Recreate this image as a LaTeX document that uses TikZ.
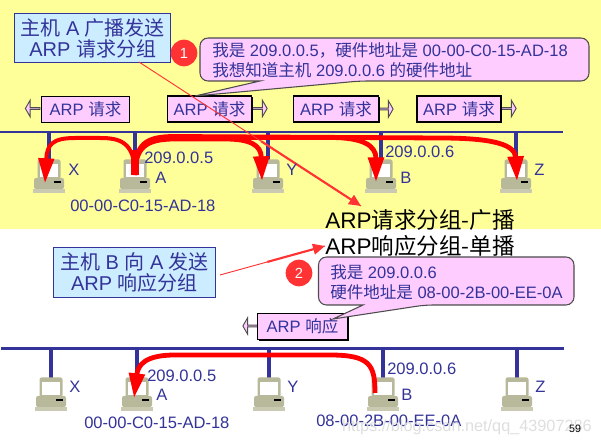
\documentclass[tikz,border=0pt]{standalone}
\usepackage{fontspec}
\setmainfont{Liberation Sans}
\newfontfamily\cjk{Noto Sans CJK SC}
\newcommand{\zh}[1]{{\cjk #1}}
\usepackage{xcolor}
\usepackage{tikz}
\usetikzlibrary{shapes.arrows, arrows.meta, shadows, calc}
\definecolor{navytext}{RGB}{51,51,153}
\definecolor{redline}{RGB}{255,51,51}
\definecolor{pinkfill}{RGB}{255,204,255}
\definecolor{bluefill}{RGB}{204,236,255}
\definecolor{slideyellow}{RGB}{255,255,153}
\definecolor{casegray}{RGB}{184,184,154}

\begin{document}
\begin{tikzpicture}[
    x=0.75pt, y=-0.75pt,
    label_text/.style={text=navytext, font=\fontsize{12.4pt}{14pt}\selectfont, inner sep=0pt},
    note_box/.style={rectangle, draw=navytext, fill=bluefill, line width=0.8pt, align=center, text=navytext,
        font=\fontsize{15pt}{16pt}\selectfont, inner sep=0pt},
    packet_box/.style={rectangle, draw=black, fill=pinkfill, line width=0.8pt, text=navytext,
        font=\fontsize{12.4pt}{14pt}\selectfont, inner sep=0pt, minimum height=19.5pt},
    packet_shadow/.style={packet_box, drop shadow={shadow xshift=1.1pt, shadow yshift=-1.1pt, fill=black, opacity=1}},
    packet_arrow/.style={single arrow, draw=black!70, fill=pinkfill, line width=0.7pt, inner sep=0pt,
        minimum width=12.5pt, minimum height=11pt, single arrow head extend=3.2pt, single arrow tip angle=120},
    callout_line/.style={draw=black!70, fill=pinkfill, line width=0.8pt},
    callout_text/.style={text=navytext, align=left, font=\fontsize{12.4pt}{15pt}\selectfont, inner sep=0pt},
    badge/.style={circle, fill=redline, text=white, minimum size=20pt, inner sep=0pt, font=\fontsize{11pt}{12pt}\selectfont},
    big_text/.style={text=black, font=\fontsize{16.9pt}{19pt}\selectfont, inner sep=0pt},
    bus_line/.style={draw=navytext, line width=1.8pt},
    stub_line/.style={draw=navytext, line width=2.4pt},
    frame_arrow/.style={draw=red, line width=3.6pt, -{Triangle[length=18.5pt, width=11.5pt]}},
    thin_arrow/.style={draw=redline, line width=0.7pt},
    thick_arrow/.style={draw=redline, line width=1.6pt, -{Triangle[length=9pt, width=8pt]}},
    computer/.pic={
        \fill[casegray, rounded corners=1.5] (-11.5,-17.5) rectangle (11.5,2);
        \fill[white] (-9,-12.5) rectangle (9,0.5);
        \fill[casegray, rounded corners=1.5] (-15,1) rectangle (15,12);
        \fill[casegray!75!white] (-16,12.5) rectangle (16,16.5);
        \draw[black, line width=0.8pt] (5,5) -- (12,5);
    }
]

\useasboundingbox (0,0) rectangle (601,445);

% Slide background
\fill[slideyellow] (0,0) rectangle (601,229);

% Bus lines
\coordinate (bus1l) at (0,132);
\coordinate (bus1r) at (563,132);
\coordinate (bus2l) at (1,348.5);
\coordinate (bus2r) at (564,348.5);
\draw[bus_line] (bus1l) -- (bus1r);
\draw[bus_line] (bus2l) -- (bus2r);

% Upper hosts
\coordinate (x1) at (49,177);
\coordinate (a1) at (135,177);
\coordinate (y1) at (268,177);
\coordinate (b1) at (381,177);
\coordinate (z1) at (516,177);
\draw[stub_line] (x1 |- bus1l) -- (x1);
\draw[stub_line] (a1 |- bus1l) -- (a1);
\draw[stub_line] (y1 |- bus1l) -- (y1);
\draw[stub_line] (b1 |- bus1l) -- (b1);
\draw[stub_line] (z1 |- bus1l) -- (z1);
\pic at (x1) {computer};
\pic at (a1) {computer};
\pic at (y1) {computer};
\pic at (b1) {computer};
\pic at (z1) {computer};

% Lower hosts
\coordinate (x2) at (51,395);
\coordinate (a2) at (137,395);
\coordinate (y2) at (269,395);
\coordinate (b2) at (383,395);
\coordinate (z2) at (517,395);
\draw[stub_line] (x2 |- bus2l) -- (x2);
\draw[stub_line] (a2 |- bus2l) -- (a2);
\draw[stub_line] (y2 |- bus2l) -- (y2);
\draw[stub_line] (b2 |- bus2l) -- (b2);
\draw[stub_line] (z2 |- bus2l) -- (z2);
\pic at (x2) {computer};
\pic at (a2) {computer};
\pic at (y2) {computer};
\pic at (b2) {computer};
\pic at (z2) {computer};

% Broadcast frames leaving A
\coordinate (asrc) at (135,175);
\coordinate (xtip) at (45,183);
\coordinate (ytip) at (262,181);
\coordinate (btip) at (376,182);
\coordinate (ztip) at (517,181);
\draw[frame_arrow, line width=3pt] (asrc) .. controls (135,142) and (120,138) .. (100,138) -- (75,138) .. controls (52,138) and (47,145) .. (xtip);
\draw[frame_arrow] (asrc) .. controls (135,148) and (145,139) .. (175,139) -- (225,139) .. controls (250,139) and (261,145) .. (ytip);
\draw[frame_arrow] (asrc) .. controls (135,146) and (145,137.5) .. (175,137.5) -- (330,137.5) .. controls (362,137.5) and (376,145) .. (btip);
\draw[frame_arrow] (asrc) .. controls (135,144) and (145,136.5) .. (175,136.5) -- (440,138) .. controls (495,138) and (515,145) .. (ztip);
\draw[red, line width=6pt] (asrc) -- (135,150);

% Unicast frame back to A
\coordinate (bsrc) at (375,393);
\coordinate (atip) at (134,398);
\draw[frame_arrow] (bsrc) .. controls (375,365) and (370,355) .. (330,355) -- (175,355) .. controls (145,355) and (138,365) .. (atip);

% Packets on the upper bus
\node[packet_arrow, shape border rotate=180, anchor=east] (arrow1) at (40.5,108.5) {};
\node[packet_box, minimum width=66pt] (pkt1) at (85.5,109.5) {ARP \zh{请求}};
\node[packet_arrow, anchor=west] (arrow2) at (252,108.5) {};
\node[packet_shadow, minimum width=63pt] (pkt2) at (209.5,109) {ARP \zh{请求}};
\node[packet_arrow, anchor=west] (arrow3) at (378,109) {};
\node[packet_shadow, minimum width=64pt] (pkt3) at (336,109) {ARP \zh{请求}};
\node[packet_arrow, anchor=west] (arrow4) at (501,108.5) {};
\node[packet_box, minimum width=63pt] (pkt4) at (459,109) {ARP \zh{请求}};

% Packet on the lower bus
\node[packet_arrow, shape border rotate=180, anchor=east] (arrow5) at (258,326) {};
\node[packet_shadow, minimum width=68pt] (pkt5) at (302.5,326.5) {ARP \zh{响应}};

% Callouts
\draw[callout_line, rounded corners=6] (200,38) -- (589,38) -- (589,81) -- (360,81) [sharp corners] -- (195,96) -- (260,81) [rounded corners=6] -- (200,81) -- cycle;
\node[callout_text, anchor=west] (msg1) at (212,60) {\zh{我是} 209.0.0.5\zh{，硬件地址是} 00-00-C0-15-AD-18\\\zh{我想知道主机} 209.0.0.6 \zh{的硬件地址}};
\draw[callout_line, rounded corners=6] (318.5,257) -- (574,257) -- (574,305) -- (425,305) [sharp corners] -- (333,319) -- (363,305) [rounded corners=6] -- (318.5,305) -- cycle;
\node[callout_text, anchor=west] (msg2) at (330,282) {\zh{我是} 209.0.0.6\\\zh{硬件地址是} 08-00-2B-00-EE-0A};

% Notes and badges
\node[note_box, minimum width=117pt, minimum height=37pt] (note1) at (92.75,38.25) {\zh{主机} A \zh{广播发送}\\ARP \zh{请求分组}};
\node[note_box, minimum width=121pt, minimum height=37pt] (note2) at (134.5,272.5) {\zh{主机} B \zh{向} A \zh{发送}\\ARP \zh{响应分组}};
\node[badge] (badge1) at (184,53) {1};
\node[badge] (badge2) at (299,273) {2};

% Captions
\node[big_text, anchor=west] (caption1) at (325,220) {ARP\zh{请求分组-广播}};
\node[big_text, anchor=west] (caption2) at (325,246) {ARP\zh{响应分组-单播}};
\coordinate (note1end) at (139,62);
\coordinate (caption1end) at (361,206);
\coordinate (note2end) at (220,275);
\coordinate (caption2end) at (325,246);
\draw[thin_arrow] (note1end) -- (caption1end);
\draw[thick_arrow] ($(note1end)!0.55!(caption1end)$) -- (caption1end);
\draw[thin_arrow] (note2end) -- (caption2end);
\draw[thick_arrow] ($(note2end)!0.45!(caption2end)$) -- (caption2end);

% Upper labels
\node[label_text, anchor=west] (xlabel1) at (68,170) {X};
\node[label_text, anchor=west] (alabel1) at (155,178) {A};
\node[label_text, anchor=west] (ylabel1) at (286,170) {Y};
\node[label_text, anchor=west] (blabel1) at (400,178) {B};
\node[label_text, anchor=west] (zlabel1) at (534,170) {Z};
\node[label_text, anchor=west] (aip1) at (144,158) {209.0.0.5};
\node[label_text, anchor=west] (bip1) at (385,152) {209.0.0.6};
\node[label_text, anchor=west] (amac1) at (70,206) {00-00-C0-15-AD-18};

% Lower labels
\node[label_text, anchor=west] (xlabel2) at (69,387) {X};
\node[label_text, anchor=west] (alabel2) at (156,395) {A};
\node[label_text, anchor=west] (ylabel2) at (287,387) {Y};
\node[label_text, anchor=west] (blabel2) at (401,395) {B};
\node[label_text, anchor=west] (zlabel2) at (535,387) {Z};
\node[label_text, anchor=west] (aip2) at (147,376) {209.0.0.5};
\node[label_text, anchor=west] (bip2) at (387,369) {209.0.0.6};
\node[label_text, anchor=west] (amac2) at (84,423) {00-00-C0-15-AD-18};
\node[label_text, anchor=west] (bmac2) at (316,421) {08-00-2B-00-EE-0A};

% Watermark and page number
\node[text=black!13, font=\fontsize{12.2pt}{13pt}\selectfont, anchor=east, inner sep=0pt] (mark) at (592,427) {https://blog.csdn.net/qq\_43907286};
\node[text=black, font=\fontsize{8pt}{9pt}\selectfont, inner sep=0pt] (pageno) at (575,429) {59};

\end{tikzpicture}
\end{document}
